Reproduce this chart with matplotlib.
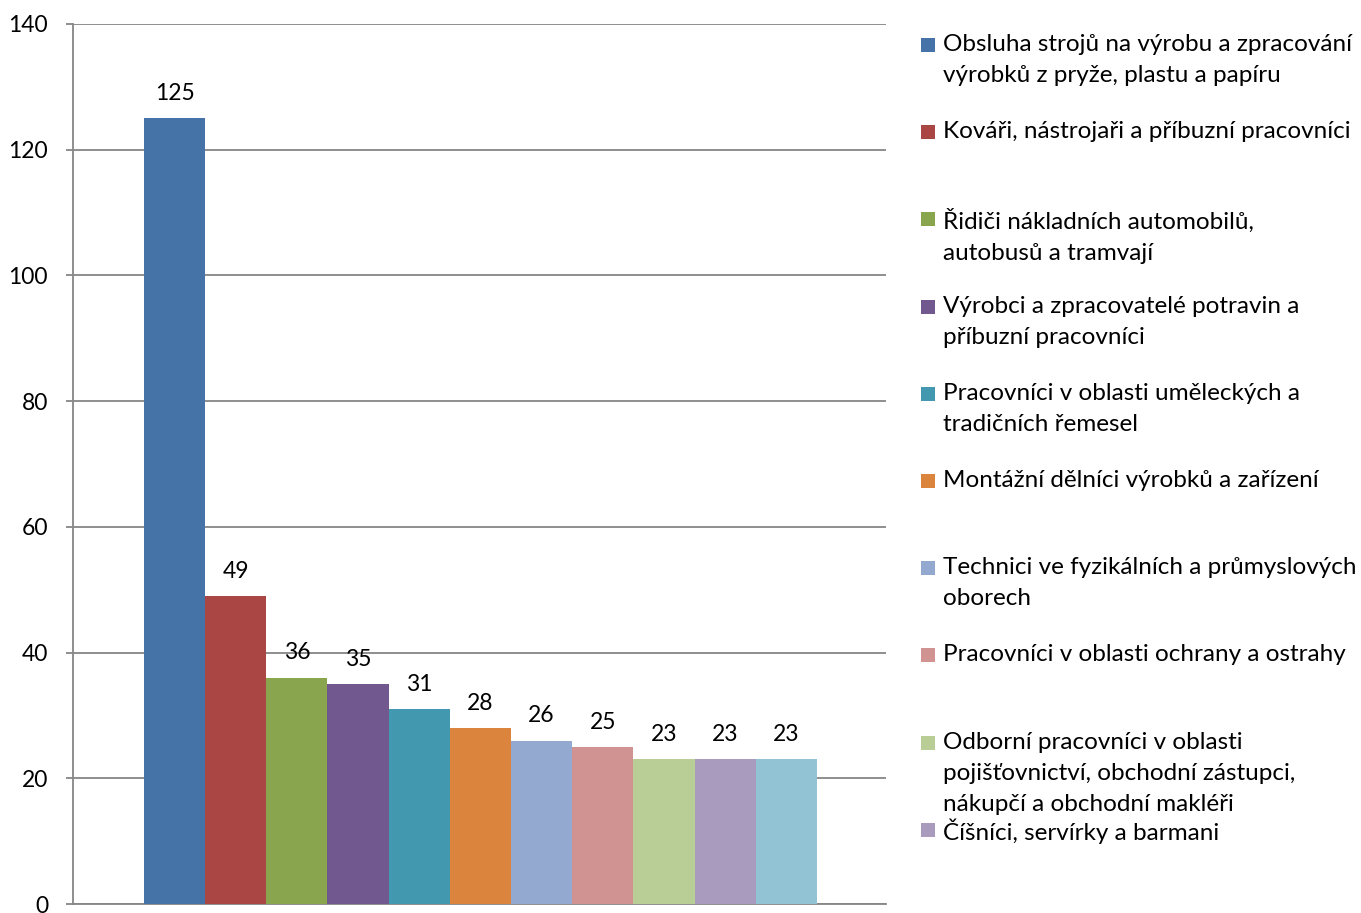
import matplotlib.pyplot as plt
from matplotlib.patches import Rectangle

plt.rcParams['font.family'] = ['Lato', 'DejaVu Sans']

# legend texts (already wrapped as in the original), the 11th entry is cut off in the source
labels = [
    "Obsluha strojů na výrobu a zpracování\nvýrobků z pryže, plastu a papíru",
    "Kováři, nástrojaři a příbuzní pracovníci",
    "Řidiči nákladních automobilů,\nautobusů a tramvají",
    "Výrobci a zpracovatelé potravin a\npříbuzní pracovníci",
    "Pracovníci v oblasti uměleckých a\ntradičních řemesel",
    "Montážní dělníci výrobků a zařízení",
    "Technici ve fyzikálních a průmyslových\noborech",
    "Pracovníci v oblasti ochrany a ostrahy",
    "Odborní pracovníci v oblasti\npojišťovnictví, obchodní zástupci,\nnákupčí a obchodní makléři",
    "Číšníci, servírky a barmani",
]
values = [125, 49, 36, 35, 31, 28, 26, 25, 23, 23, 23]
colors = ["#4572A7", "#AA4643", "#89A54E", "#71588F", "#4198AF", "#DB843D",
          "#93A9CF", "#D19392", "#B9CD96", "#A99BBD", "#92C3D4"]
yticks = [0, 20, 40, 60, 80, 100, 120, 140]

fig = plt.figure(figsize=(13.61, 9.13), dpi=100)
ax = fig.add_axes([73 / 1361, 1 - 904 / 913, (886 - 73) / 1361, (904 - 24) / 913])

x = list(range(len(values)))
ax.bar(x, values, width=1.0, color=colors, zorder=3)
for xi, v in zip(x, values):
    ax.text(xi, v + 2.9, str(v), ha='center', va='baseline', fontsize=16.5, color='black')

ax.set_xlim(-1.66, 11.63)
ax.set_ylim(0, 140)
ax.set_yticks(yticks)
ax.set_yticklabels([str(t) for t in yticks], fontsize=16.5)
ax.set_xticks([])
ax.grid(axis='y', color='#868686', linewidth=1.3, zorder=0)
for s in ['top', 'right']:
    ax.spines[s].set_visible(False)
for s in ['left', 'bottom']:
    ax.spines[s].set_color('#868686')
    ax.spines[s].set_linewidth(1.3)
ax.tick_params(axis='y', length=5, width=1.3, color='#868686', pad=13)

# legend in equal-height slots like the spreadsheet legend
top_px = 45
step_px = 87.2
for i, lab in enumerate(labels):
    y_px = top_px + i * step_px
    fig.patches.append(Rectangle((921 / 1361, 1 - (y_px + 7) / 913), 14 / 1361, 14 / 913,
                                 transform=fig.transFigure, facecolor=colors[i],
                                 edgecolor='none'))
    fig.text(943 / 1361, 1 - (y_px - 11) / 913, lab, ha='left', va='top',
             fontsize=17.5, linespacing=1.6)

fig.savefig('out.png', dpi=100)
